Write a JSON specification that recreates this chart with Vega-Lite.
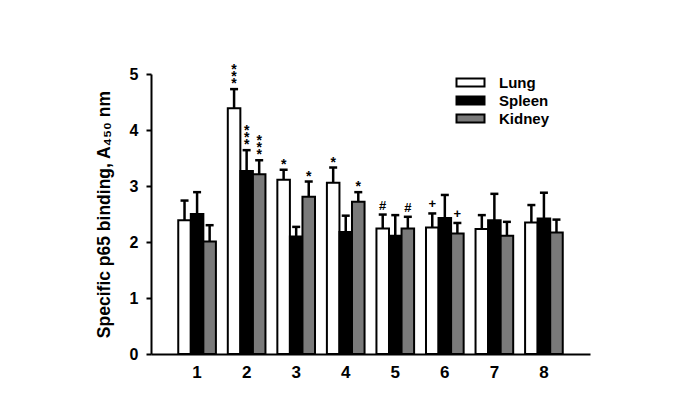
{
  "$schema": "https://vega.github.io/schema/vega-lite/v6.json",
  "width": 439,
  "height": 280,
  "autosize": {"type": "none"},
  "padding": {"left": 151, "top": 74, "right": 84, "bottom": 54},
  "background": "white",
  "config": {"view": {"stroke": null}, "font": "Liberation Sans"},
  "data": {"values": [
    {"group": "1", "tissue": "Lung", "mean": 2.39, "upper": 2.74, "label": ""},
    {"group": "1", "tissue": "Spleen", "mean": 2.50, "upper": 2.89, "label": ""},
    {"group": "1", "tissue": "Kidney", "mean": 2.01, "upper": 2.30, "label": ""},
    {"group": "2", "tissue": "Lung", "mean": 4.39, "upper": 4.73, "label": "*\n*\n*"},
    {"group": "2", "tissue": "Spleen", "mean": 3.27, "upper": 3.64, "label": "*\n*\n*"},
    {"group": "2", "tissue": "Kidney", "mean": 3.21, "upper": 3.46, "label": "*\n*\n*"},
    {"group": "3", "tissue": "Lung", "mean": 3.11, "upper": 3.29, "label": "*"},
    {"group": "3", "tissue": "Spleen", "mean": 2.10, "upper": 2.27, "label": ""},
    {"group": "3", "tissue": "Kidney", "mean": 2.81, "upper": 3.08, "label": "*"},
    {"group": "4", "tissue": "Lung", "mean": 3.06, "upper": 3.33, "label": "*"},
    {"group": "4", "tissue": "Spleen", "mean": 2.18, "upper": 2.47, "label": ""},
    {"group": "4", "tissue": "Kidney", "mean": 2.72, "upper": 2.89, "label": "*"},
    {"group": "5", "tissue": "Lung", "mean": 2.24, "upper": 2.49, "label": "#"},
    {"group": "5", "tissue": "Spleen", "mean": 2.11, "upper": 2.48, "label": ""},
    {"group": "5", "tissue": "Kidney", "mean": 2.24, "upper": 2.45, "label": "#"},
    {"group": "6", "tissue": "Lung", "mean": 2.26, "upper": 2.51, "label": "+"},
    {"group": "6", "tissue": "Spleen", "mean": 2.43, "upper": 2.84, "label": ""},
    {"group": "6", "tissue": "Kidney", "mean": 2.15, "upper": 2.34, "label": "+"},
    {"group": "7", "tissue": "Lung", "mean": 2.23, "upper": 2.48, "label": ""},
    {"group": "7", "tissue": "Spleen", "mean": 2.39, "upper": 2.86, "label": ""},
    {"group": "7", "tissue": "Kidney", "mean": 2.11, "upper": 2.36, "label": ""},
    {"group": "8", "tissue": "Lung", "mean": 2.35, "upper": 2.66, "label": ""},
    {"group": "8", "tissue": "Spleen", "mean": 2.42, "upper": 2.88, "label": ""},
    {"group": "8", "tissue": "Kidney", "mean": 2.17, "upper": 2.40, "label": ""}
  ]},
  "encoding": {
    "x": {
      "field": "group", "type": "ordinal",
      "scale": {"paddingInner": 0.24, "paddingOuter": 0.55},
      "axis": {
        "title": null, "labelAngle": 0, "ticks": false, "domainColor": "black", "domainWidth": 2,
        "labelFontSize": 17, "labelFontWeight": "bold", "labelColor": "black", "labelPadding": 10
      }
    },
    "xOffset": {
      "field": "tissue", "type": "nominal",
      "scale": {"domain": ["Lung", "Spleen", "Kidney"], "paddingInner": 0, "paddingOuter": 0}
    }
  },
  "layer": [
    {
      "mark": {"type": "bar", "stroke": "black", "strokeWidth": 2},
      "encoding": {
        "y": {
          "field": "mean", "type": "quantitative",
          "title": "Specific p65 binding, A₄₅₀ nm",
          "scale": {"domain": [0, 5]},
          "axis": {
            "values": [0, 1, 2, 3, 4, 5], "grid": false, "domainColor": "black", "domainWidth": 2,
            "tickColor": "black", "tickWidth": 2, "tickSize": 5, "labelPadding": 8,
            "labelFontSize": 16, "labelFontWeight": "bold", "labelColor": "black",
            "titleFontSize": 17.5, "titleFontWeight": "bold", "titleColor": "black", "titlePadding": 16
          }
        },
        "fill": {
          "field": "tissue", "type": "nominal",
          "scale": {"domain": ["Lung", "Spleen", "Kidney"], "range": ["white", "black", "#7a7a7a"]},
          "legend": {
            "title": null, "orient": "none", "legendX": 312, "legendY": 1, "direction": "vertical",
            "symbolType": "M-3.5,-1H3.5V1H-3.5Z", "symbolSize": 64, "symbolStrokeColor": "black",
            "symbolStrokeWidth": 2, "symbolOpacity": 1, "labelFontSize": 15, "labelFontWeight": "bold",
            "labelColor": "black", "labelOffset": 21, "rowPadding": 1
          }
        }
      }
    },
    {
      "mark": {"type": "rule", "color": "black", "strokeWidth": 2.5},
      "encoding": {
        "y": {"field": "mean", "type": "quantitative", "title": "Specific p65 binding, A₄₅₀ nm"},
        "y2": {"field": "upper"}
      }
    },
    {
      "mark": {"type": "tick", "orient": "horizontal", "color": "black", "thickness": 2.5, "size": 8, "opacity": 1},
      "encoding": {
        "y": {"field": "upper", "type": "quantitative", "title": "Specific p65 binding, A₄₅₀ nm"}
      }
    },
    {
      "transform": [{"filter": "datum.label == '*'"}],
      "mark": {"type": "text", "fontSize": 14, "fontWeight": "bold", "color": "black", "baseline": "bottom", "dy": 2},
      "encoding": {
        "y": {"field": "upper", "type": "quantitative", "title": "Specific p65 binding, A₄₅₀ nm"},
        "text": {"field": "label"}
      }
    },
    {
      "transform": [{"filter": "length(datum.label) > 1"}],
      "mark": {"type": "text", "fontSize": 14, "fontWeight": "bold", "color": "black", "baseline": "bottom", "dy": -12, "lineBreak": "\n", "lineHeight": 7},
      "encoding": {
        "y": {"field": "upper", "type": "quantitative", "title": "Specific p65 binding, A₄₅₀ nm"},
        "text": {"field": "label"}
      }
    },
    {
      "transform": [{"filter": "datum.label == '#' || datum.label == '+'"}],
      "mark": {"type": "text", "fontSize": 13, "fontWeight": "bold", "color": "black", "baseline": "alphabetic", "dy": -5},
      "encoding": {
        "y": {"field": "upper", "type": "quantitative", "title": "Specific p65 binding, A₄₅₀ nm"},
        "text": {"field": "label"}
      }
    }
  ]
}
